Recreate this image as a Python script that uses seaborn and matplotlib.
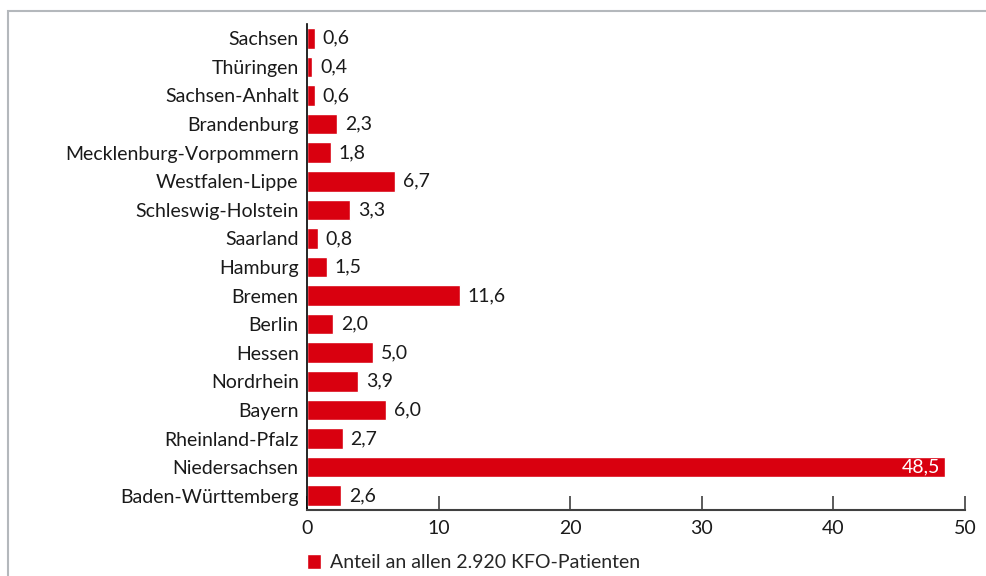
import matplotlib
matplotlib.use('Agg')
import matplotlib.pyplot as plt
import seaborn as sns
import pandas as pd
from matplotlib.patches import Rectangle

regionen = ['Sachsen', 'Thüringen', 'Sachsen-Anhalt', 'Brandenburg',
            'Mecklenburg-Vorpommern', 'Westfalen-Lippe', 'Schleswig-Holstein',
            'Saarland', 'Hamburg', 'Bremen', 'Berlin', 'Hessen', 'Nordrhein',
            'Bayern', 'Rheinland-Pfalz', 'Niedersachsen', 'Baden-Württemberg']
anteile = [0.6, 0.4, 0.6, 2.3, 1.8, 6.7, 3.3, 0.8, 1.5, 11.6, 2.0, 5.0, 3.9,
           6.0, 2.7, 48.5, 2.6]
x_ticks = [0, 10, 20, 30, 40, 50]
legend_label = 'Anteil an allen 2.920 KFO-Patienten'

df = pd.DataFrame({'region': regionen, 'anteil': anteile})
rot = '#d9000f'
fs = 14

sns.set_style('white')
plt.rcParams['font.family'] = ['Lato', 'DejaVu Sans']

fig = plt.figure(figsize=(9.87, 5.76), dpi=100)
# grauer Rahmen oben und links
fig.patches.append(Rectangle((8 / 987, -0.1), 1.2, 1.1 - 11.5 / 576,
                             transform=fig.transFigure, fill=False,
                             edgecolor='#b4b8bc', linewidth=1.5))

ax = fig.add_axes([307 / 987, 1 - 510 / 576, (965 - 307) / 987, (510 - 24) / 576])
sns.barplot(data=df, x='anteil', y='region', color=rot, width=0.72,
            saturation=1, ax=ax, label=legend_label)

for i, v in enumerate(anteile):
    txt = f'{v:.1f}'.replace('.', ',')
    if v > 40:
        ax.text(v - 0.4, i, txt, va='center', ha='right', color='white', fontsize=fs)
    else:
        ax.text(v + 0.6, i, txt, va='center', ha='left', color='#1a1a1a', fontsize=fs)

ax.set_xlim(0, 50)
ax.set_ylim(16.5, -0.5)
ax.set_xticks(x_ticks)
ax.set_xlabel('')
ax.set_ylabel('')
ax.tick_params(axis='x', direction='in', length=10, width=1.2, color='#404040',
               labelsize=fs, pad=7, bottom=True)
ax.tick_params(axis='y', length=0, labelsize=fs, pad=6)
for lab in ax.get_xticklabels() + ax.get_yticklabels():
    lab.set_color('#1a1a1a')
sns.despine(ax=ax, top=True, right=True)
ax.spines['left'].set_color('#000000')
ax.spines['left'].set_linewidth(1.2)
ax.spines['bottom'].set_color('#404040')
ax.spines['bottom'].set_linewidth(1.5)

leg = ax.legend(loc='upper left', bbox_to_anchor=(-0.012, -0.075), frameon=False,
                fontsize=fs, handlelength=0.75, handleheight=0.75, handletextpad=0.45,
                borderaxespad=0)

fig.savefig('out.png', dpi=100)
